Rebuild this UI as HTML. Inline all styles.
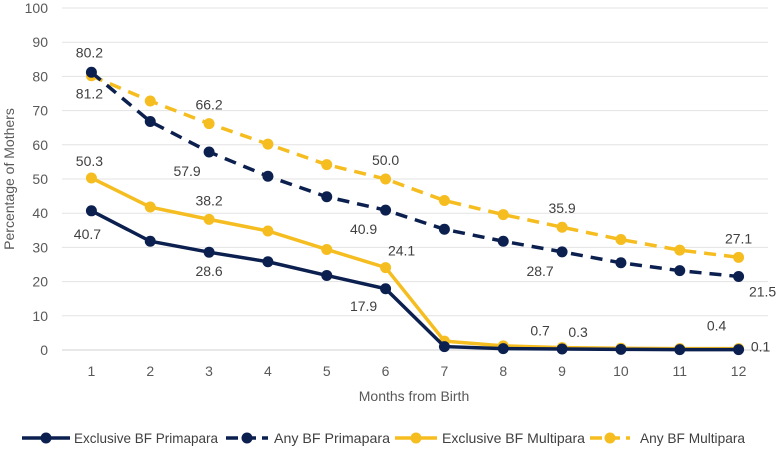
<!DOCTYPE html>
<html><head><meta charset="utf-8"><style>
body{margin:0;background:#fff;}
svg{display:block;font-family:"Liberation Sans",sans-serif;}
</style></head><body>
<svg id="c" width="780" height="451"></svg>
<script>
const categories=[1,2,3,4,5,6,7,8,9,10,11,12];
const yTicks=[0,10,20,30,40,50,60,70,80,90,100];
const exclPrim=[40.7,31.8,28.6,25.8,21.8,17.9,1.0,0.4,0.3,0.2,0.1,0.1];
const anyPrim=[81.2,66.8,57.9,50.8,44.8,40.9,35.3,31.8,28.7,25.5,23.2,21.5];
const exclMulti=[50.3,41.8,38.2,34.8,29.4,24.1,2.6,1.2,0.7,0.5,0.4,0.4];
const anyMulti=[80.2,72.8,66.2,60.2,54.2,50.0,43.7,39.6,35.9,32.3,29.2,27.1];
const seriesNames=["Exclusive BF Primapara","Any BF Primapara","Exclusive BF Multipara","Any BF Multipara"];
const labelIdx=[[0,2,5,8,11],[0,2,5,8,11],[0,2,5,8,11],[0,2,5,8,11]];

const NS="http://www.w3.org/2000/svg",svg=document.getElementById('c');
const L=62,R=768,T=8,B=350,bw=(R-L)/12;
const x=i=>L+bw*(i+0.5), y=v=>B-(v/100)*(B-T);
function mk(t,a,p){const e=document.createElementNS(NS,t);for(const k in a)e.setAttribute(k,a[k]);(p||svg).appendChild(e);return e;}
yTicks.forEach(t=>{
  const g=mk('line',{x1:L,x2:R,y1:y(t),y2:y(t),stroke:t===0?'#d0d0d0':'#e3e3e3','stroke-width':1});
  
  
  const l=mk('text',{x:48,y:y(t)+5,'text-anchor':'end','font-size':14,fill:'#595959'});l.textContent=t;
  
  
});
categories.forEach((c,i)=>{
  const l=mk('text',{x:x(i),y:376,'text-anchor':'middle','font-size':14,fill:'#595959'});l.textContent=c;
  
  
});
let yt=mk('text',{x:0,y:0,'text-anchor':'middle','font-size':14,fill:'#595959',transform:'translate(14,179) rotate(-90)'});yt.textContent='Percentage of Mothers';


let xt=mk('text',{x:414,y:401,'text-anchor':'middle','font-size':14,fill:'#595959'});xt.textContent='Months from Birth';



const navy='#0c2050',gold='#f5bd1f';
const series=[[exclPrim,navy,false],[anyPrim,navy,true],[exclMulti,gold,false],[anyMulti,gold,true]];
const offs=[
 [[-4,28],[0,24],[-22,22],[16,-12],[22,2]],
 [[-2,26],[-22,24],[-22,24],[-22,24],[24,20]],
 [[-2,-12],[0,-14],[16,-12],[-22,-12],[-22,-18]],
 [[-2,-18],[0,-14],[0,-14],[0,-14],[0,-14]]];
const order=[2,0,3,1];
order.forEach(si=>{
  const [d,col,dash]=series[si];
  const g=mk('g',{});
  
  
  const pts=d.map((v,i)=>x(i)+','+y(v)).join(' ');
  mk('polyline',{points:pts,fill:'none',stroke:col,'stroke-width':3.5,'stroke-dasharray':dash?'12,8':'none'},g);
  d.forEach((v,i)=>{const c=mk('circle',{cx:x(i),cy:y(v),r:5.5,fill:col},g);
    
    });
  labelIdx[si].forEach((i,k)=>{const o=offs[si][k];
    const t=mk('text',{x:x(i)+o[0],y:y(d[i])+o[1],'text-anchor':'middle','font-size':14,fill:'#404040'},g);
    t.textContent=d[i].toFixed(1);
    
    });
});
// legend
const lx=[22,226,395,590], lw=[48,42,42,40], tx=[74,274,442,640], tl=[144,116,143,105];
seriesNames.forEach((n,i)=>{
  const [d,col,dash]=series[i];
  const g=mk('g',{});
  
  
  mk('line',{x1:lx[i],x2:lx[i]+lw[i],y1:438,y2:438,stroke:col,'stroke-width':3.5,'stroke-dasharray':dash?'12,6':'none'},g);
  mk('circle',{cx:lx[i]+lw[i]/2,cy:438,r:5.5,fill:col},g);
  const t=mk('text',{x:tx[i],y:443,'font-size':14,fill:'#404040',textLength:tl[i],lengthAdjust:'spacingAndGlyphs'},g);t.textContent=n;
});
</script>
</body></html>
